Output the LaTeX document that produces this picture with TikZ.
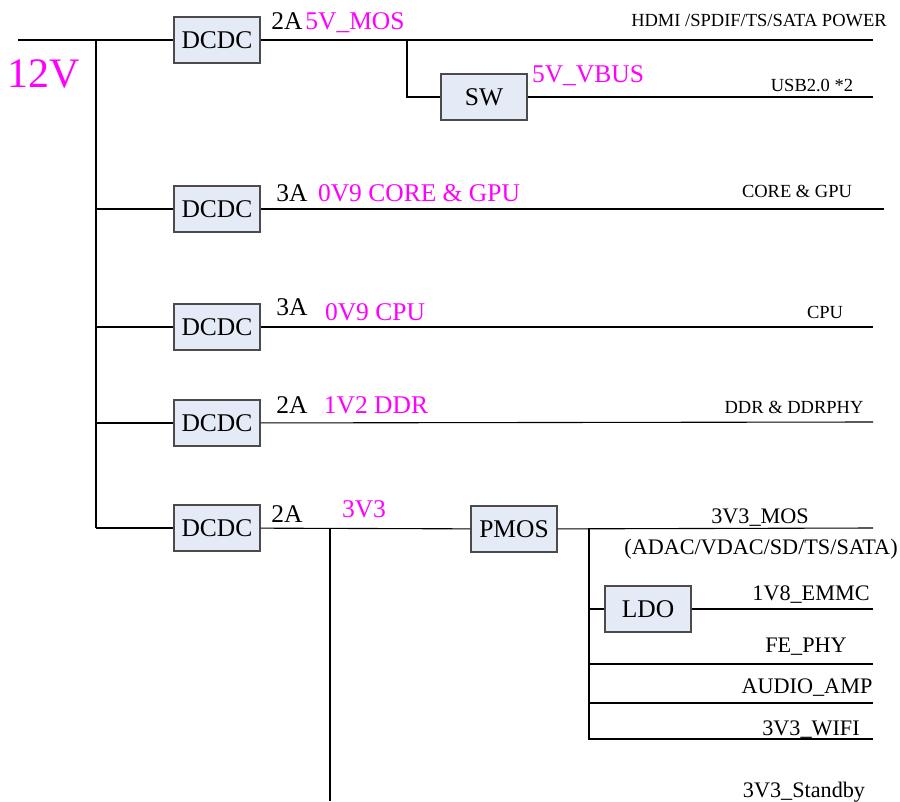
\documentclass[tikz,border=0pt]{standalone}
\usepackage{fontspec}
\setmainfont{Liberation Serif}
\usetikzlibrary{positioning}
\definecolor{BoxColor}{RGB}{229,235,246}
\definecolor{RailColor}{RGB}{255,0,255}
\definecolor{EdgeColor}{RGB}{75,75,75}

\begin{document}
\begin{tikzpicture}[x=1pt,y=-1pt,line width=1.1pt,
  blk/.style={draw=EdgeColor,fill=BoxColor,minimum width=86pt,minimum height=46pt,
    inner sep=0pt,font=\fontsize{25.5}{30}\selectfont},
  amp/.style={anchor=base,inner sep=0pt,font=\fontsize{25.5}{30}\selectfont},
  rail/.style={amp,text=RailColor},
  load/.style={anchor=base,inner sep=0pt,font=\fontsize{18.5}{22}\selectfont},
  sink/.style={anchor=base,inner sep=0pt,font=\fontsize{22.2}{26}\selectfont}]
\useasboundingbox (0,0) rectangle (900,801);
% converters
\node[blk] (dcdcA) at (217,40) {DCDC};
\node[blk] (dcdcB) at (217,209) {DCDC};
\node[blk] (dcdcC) at (217,327) {DCDC};
\node[blk] (dcdcD) at (217,423) {DCDC};
\node[blk] (dcdcE) at (217,528) {DCDC};
\node[blk] (sw) at (484,97) {SW};
\node[blk] (pmos) at (514,529) {PMOS};
\node[blk] (ldo) at (648,609) {LDO};
% line ends
\coordinate (vin) at (18,40);
\coordinate (busT) at (96,40);
\coordinate (busB) at (96,528);
\coordinate (tapSW) at (407,40);
\coordinate (outA) at (873,40);
\coordinate (outSW) at (873,97);
\coordinate (outB) at (884,209);
\coordinate (outC) at (873,327);
\coordinate (outD) at (873,422);
\coordinate (tap3v3) at (330,528);
\coordinate (stby) at (330,801);
\coordinate (pmosOut) at (873,528);
\coordinate (tapP) at (589,528);
\coordinate (outLDO) at (873,609);
\coordinate (outFE) at (873,664);
\coordinate (outAMP) at (873,703);
\coordinate (outWIFI) at (873,739);
% 12V bus
\draw (vin) -- (dcdcA);
\draw (busT) -- (busB);
\foreach \n in {dcdcB,dcdcC,dcdcD,dcdcE} \draw (busT |- \n) -- (\n);
% outputs
\draw (dcdcA) -- (outA);
\draw (tapSW) |- (sw);
\draw (sw) -- (outSW);
\draw (dcdcB) -- (outB);
\draw (dcdcC) -- (outC);
\draw (dcdcD) -- (outD);
\draw (dcdcE) -- (pmos);
\draw (tap3v3) -- (stby);
\draw (pmos) -- (pmosOut);
\draw (tapP) |- (outWIFI);
\draw (tapP |- ldo) -- (ldo);
\draw (ldo) -- (outLDO);
\foreach \n in {outFE,outAMP} \draw (tapP |- \n) -- (\n);
% labels
\node[rail,font=\fontsize{42}{48}\selectfont] (vIn) at (44,87) {12V};
\node[amp] (iA) at (287,29) {2A};
\node[rail] (rA) at (355,29) {5V\_MOS};
\node[load] (lA) at (759,26) {HDMI /SPDIF/TS/SATA POWER};
\node[rail] (rSW) at (588,82) {5V\_VBUS};
\node[load] (lSW) at (812,91) {USB2.0 *2};
\node[amp] (iB) at (292,201) {3A};
\node[rail] (rB) at (419,201) {0V9 CORE \& GPU};
\node[load] (lB) at (797,197) {CORE \& GPU};
\node[amp] (iC) at (292,315) {3A};
\node[rail] (rC) at (375,320) {0V9 CPU};
\node[load] (lC) at (825,318) {CPU};
\node[amp] (iD) at (292,413) {2A};
\node[rail] (rD) at (376,413) {1V2 DDR};
\node[load] (lD) at (794,413) {DDR \& DDRPHY};
\node[amp] (iE) at (287,522) {2A};
\node[rail] (rE) at (364,517) {3V3};
\node[sink] (lMOS) at (760,523) {3V3\_MOS};
\node[sink] (lDAC) at (761,554) {(ADAC/VDAC/SD/TS/SATA)};
\node[sink] (lEMMC) at (811,600) {1V8\_EMMC};
\node[sink] (lFE) at (806,652) {FE\_PHY};
\node[sink] (lAMP) at (807,693) {AUDIO\_AMP};
\node[sink] (lWIFI) at (811,735) {3V3\_WIFI};
\node[sink] (lSTBY) at (804,797) {3V3\_Standby};
\end{tikzpicture}
\end{document}
